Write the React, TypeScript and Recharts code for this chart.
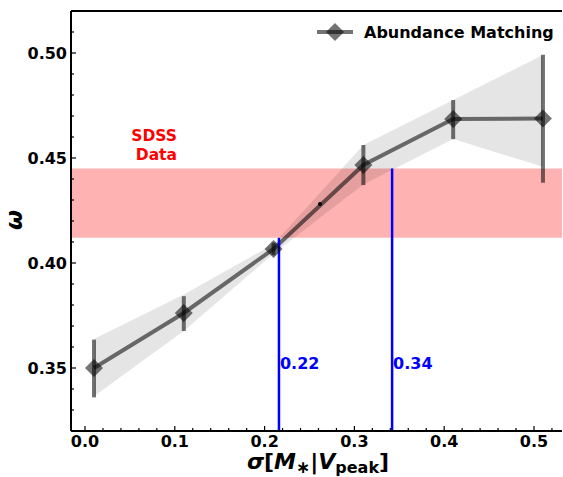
import React from 'react';
import {
  ComposedChart, Line, Area, XAxis, YAxis, ErrorBar, ReferenceArea,
  ReferenceLine, ReferenceDot, Customized,
} from 'recharts';

// ---- data ----
const sigma = [0.01, 0.11, 0.21, 0.31, 0.41, 0.51];
const omega = [0.350, 0.3762, 0.4067, 0.4467, 0.4686, 0.4688];
const errUp = [0.0135, 0.008, 0.003, 0.0095, 0.009, 0.0304];
const errDown = [0.014, 0.0086, 0.003, 0.0096, 0.0096, 0.0306];
const bandLow = [0.3365, 0.3676, 0.4045, 0.4374, 0.459, 0.4458];
const bandHigh = [0.3638, 0.385, 0.409, 0.4562, 0.4776, 0.499];

const sdssLow = 0.412;
const sdssHigh = 0.445;
const crossX = [0.216, 0.342];
const crossTop = [0.412, 0.445];
const crossLabels = ['0.22', '0.34'];
const crossLabelY = 0.3524;
const markX = 0.2617;
const markY = 0.4281;

const xTicks = [0, 0.02, 0.04, 0.06, 0.08, 0.1, 0.12, 0.14, 0.16, 0.18, 0.2, 0.22, 0.24, 0.26, 0.28, 0.3,
  0.32, 0.34, 0.36, 0.38, 0.4, 0.42, 0.44, 0.46, 0.48, 0.5, 0.52];
const xMajor = ['0.0', '0.1', '0.2', '0.3', '0.4', '0.5'];
const yTicks = [0.33, 0.34, 0.35, 0.36, 0.37, 0.38, 0.39, 0.4, 0.41, 0.42, 0.43, 0.44, 0.45, 0.46,
  0.47, 0.48, 0.49, 0.5, 0.51];
const yMajor = ['0.35', '0.40', '0.45', '0.50'];

const legendLabel = 'Abundance Matching';
const sdssLines = ['SDSS', 'Data'];

const data = sigma.map((s, i) => ({
  sigma: s,
  omega: omega[i],
  err: [errDown[i], errUp[i]],
  band: [bandLow[i], bandHigh[i]],
}));

const FONT = '"DejaVu Sans", sans-serif';
const FS = 16;

const XTick = (props: any) => {
  const { x, y, payload } = props;
  const label = xMajor.find((l) => Math.abs(parseFloat(l) - payload.value) < 1e-6);
  const len = label ? 5 : 3;
  return (
    <g>
      <line x1={x} x2={x} y1={y} y2={y - len} stroke="#000" strokeWidth={1.2} />
      {label && (
        <text x={x} y={y + 15.5} textAnchor="middle" fontFamily={FONT} fontWeight="bold" fontSize={FS} fill="#000">
          {label}
        </text>
      )}
    </g>
  );
};

const YTick = (props: any) => {
  const { x, y, payload } = props;
  const label = yMajor.find((l) => Math.abs(parseFloat(l) - payload.value) < 1e-6);
  const len = label ? 5 : 3;
  return (
    <g>
      <line x1={x} x2={x + len} y1={y} y2={y} stroke="#000" strokeWidth={1.2} />
      {label && (
        <text x={x - 4} y={y + 6} textAnchor="end" fontFamily={FONT} fontWeight="bold" fontSize={FS} fill="#000">
          {label}
        </text>
      )}
    </g>
  );
};

const Diamond = (props: any) => {
  const { cx, cy, index } = props;
  if (cx == null || cy == null) return <g key={index} />;
  const r = 9;
  return (
    <path
      key={index}
      d={`M${cx},${cy - r} L${cx + r},${cy} L${cx},${cy + r} L${cx - r},${cy} Z`}
      fill="#000"
      fillOpacity={0.55}
    />
  );
};

const Annotations = () => (
  <g fontFamily={FONT}>
    {/* legend */}
    <line x1={317} x2={353} y1={32} y2={32} stroke="#000" strokeOpacity={0.55} strokeWidth={4} />
    <path d="M335,23 L344,32 L335,41 L326,32 Z" fill="#000" fillOpacity={0.55} />
    <text x={364} y={38} fontWeight="bold" fontSize={FS} fill="#000">{legendLabel}</text>
    {/* SDSS */}
    <text x={177} y={141} textAnchor="end" fontWeight="bold" fontSize={15.5} fill="#ff0000">{sdssLines[0]}</text>
    <text x={177} y={160} textAnchor="end" fontWeight="bold" fontSize={15.5} fill="#ff0000">{sdssLines[1]}</text>
    {/* axis labels */}
    <text x={318} y={469} textAnchor="middle" fontWeight="bold" fontSize={22} fill="#000">
      <tspan fontStyle="italic">σ</tspan>
      <tspan>[</tspan>
      <tspan fontStyle="italic">M</tspan>
      <tspan dy={4} fontSize={17}>∗</tspan>
      <tspan dy={-4}>|</tspan>
      <tspan fontStyle="italic">V</tspan>
      <tspan dy={4} fontSize={16}>peak</tspan>
      <tspan dy={-4}>]</tspan>
    </text>
    <text
      x={22}
      y={220}
      textAnchor="middle"
      fontWeight="bold"
      fontStyle="italic"
      fontSize={23}
      fill="#000"
      transform="rotate(-90 22 220)"
    >
      ω
    </text>
  </g>
);

export default function App() {
  return (
    <div style={{ position: 'absolute', left: 0, top: 0, width: 563, height: 477, overflow: 'hidden', background: '#fff' }}>
      <ComposedChart
        width={563}
        height={477}
        data={data}
        margin={{ top: 11, right: 1, bottom: 0, left: 0 }}
      >
        <XAxis
          dataKey="sigma"
          type="number"
          domain={[-0.0156, 0.5312]}
          allowDataOverflow
          ticks={xTicks}
          interval={0}
          tick={<XTick />}
          tickLine={false}
          tickSize={0}
          tickMargin={0}
          height={46}
          axisLine={{ stroke: '#000', strokeWidth: 2 }}
        />
        <YAxis
          type="number"
          domain={[0.32, 0.52]}
          allowDataOverflow
          ticks={yTicks}
          interval={0}
          tick={<YTick />}
          tickLine={false}
          tickSize={0}
          tickMargin={0}
          width={71}
          axisLine={{ stroke: '#000', strokeWidth: 2 }}
        />
        <ReferenceArea y1={sdssLow} y2={sdssHigh} fill="#ff0000" fillOpacity={0.3} stroke="none" />
        <Area
          dataKey="band"
          type="linear"
          fill="#000"
          fillOpacity={0.1}
          stroke="none"
          isAnimationActive={false}
          activeDot={false}
        />
        <Line
          dataKey="omega"
          type="linear"
          stroke="#000"
          strokeOpacity={0.55}
          strokeWidth={4}
          dot={<Diamond />}
          activeDot={false}
          isAnimationActive={false}
        >
          <ErrorBar dataKey="err" direction="y" width={0} stroke="#000" strokeOpacity={0.55} strokeWidth={4} isAnimationActive={false} />
        </Line>
        {crossX.map((cx, i) => (
          <ReferenceLine
            key={`cl${i}`}
            segment={[{ x: cx, y: 0.32 }, { x: cx, y: crossTop[i] }]}
            stroke="#0000ff"
            strokeWidth={2.5}
          />
        ))}
        {crossX.map((cx, i) => (
          <ReferenceDot
            key={`lab${i}`}
            x={cx}
            y={crossLabelY}
            r={0}
            stroke="none"
            fill="none"
            label={{
              value: crossLabels[i],
              position: 'right',
              offset: 1,
              fill: '#0000ff',
              fontWeight: 'bold',
              fontSize: FS,
              fontFamily: FONT,
            }}
          />
        ))}
        <ReferenceDot x={markX} y={markY} r={2} fill="#000" stroke="none" />
        <ReferenceLine y={0.52} stroke="#000" strokeWidth={2} />
        <Customized component={<Annotations />} />
      </ComposedChart>
    </div>
  );
}
